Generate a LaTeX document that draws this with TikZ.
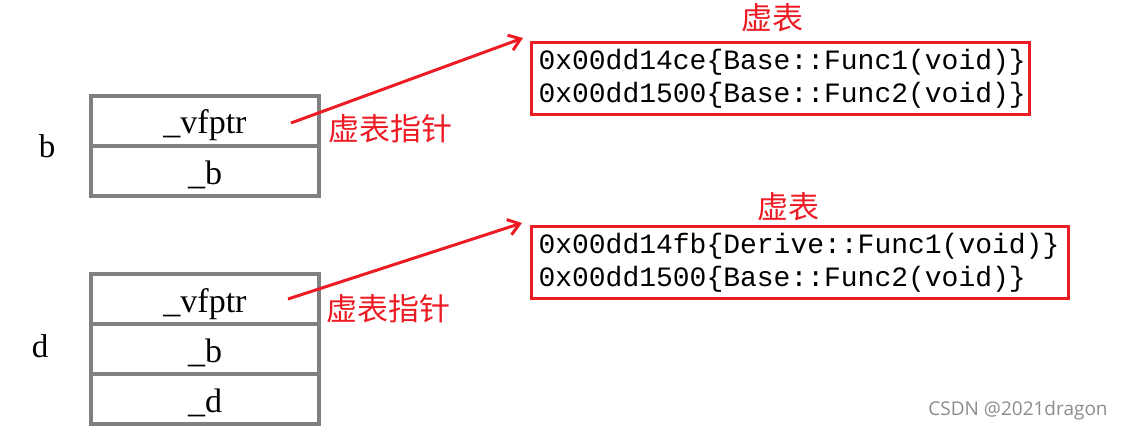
\documentclass[tikz,border=0pt]{standalone}
\usepackage{fontspec}
\setmainfont{Liberation Serif}
\setmonofont{Liberation Mono}
\newfontfamily\cjk{Noto Sans CJK SC}
\newfontfamily\marksans{Open Sans}
\usetikzlibrary{arrows.meta, positioning}

\definecolor{vtred}{RGB}{237,28,36}
\definecolor{cellgray}{RGB}{128,128,128}

\tikzset{
  cell/.style={draw=cellgray, line width=3.2pt, minimum width=228pt, minimum height=50pt, inner sep=0pt, text height=26pt, text depth=0pt, font=\fontsize{34}{38}\selectfont},
  objname/.style={font=\fontsize{33}{36}\selectfont},
  vtable/.style={draw=vtred, line width=3pt, align=left, minimum height=72pt, inner xsep=7pt, inner ysep=0pt, font=\ttfamily\fontsize{28}{33}\selectfont},
  redtag/.style={text=vtred, font=\cjk\fontsize{31}{34}\selectfont},
  ptr/.style={draw=vtred, line width=3pt, -{Straight Barb[length=11pt,width=16pt,line width=3pt]}}
}

\begin{document}
\begin{tikzpicture}[x=1pt,y=-1pt]
\useasboundingbox (0,0) rectangle (1124,433);

% object b
\node[objname] (bname) at (47,146) {b};
\node[cell] (bvf) at (205,121) {\_vfptr};
\node[cell] (bb) at (205,171) {\_b};

% object d
\node[objname] (dname) at (40,346) {d};
\node[cell] (dvf) at (205,299) {\_vfptr};
\node[cell] (db) at (205,349) {\_b};
\node[cell] (dd) at (205,399) {\_d};

% virtual tables
\node[vtable, text width=484pt, anchor=north west] (vtb) at (530,41) {0x00dd14ce\{Base::Func1(void)\}\\0x00dd1500\{Base::Func2(void)\}};
\node[vtable, text width=523pt, anchor=north west] (vtd) at (530,225) {0x00dd14fb\{Derive::Func1(void)\}\\0x00dd1500\{Base::Func2(void)\}};
\node[redtag] (vtbtag) at (772,18) {虚表};
\node[redtag] (vtdtag) at (788,207) {虚表};

% pointers
\coordinate (bptr) at (291,123);
\coordinate (dptr) at (288,299);
\draw[ptr] (bptr) -- ([xshift=-7pt,yshift=3pt]vtb.north west);
\draw[ptr] (dptr) -- ([xshift=-8pt,yshift=2pt]vtd.north west);
\node[redtag] (bptrtag) at (390,129) {虚表指针};
\node[redtag] (dptrtag) at (388,309) {虚表指针};

\node[text=black!45, font=\marksans\fontsize{19}{22}\selectfont] (mark) at (1018,411) {CSDN @2021dragon};
\end{tikzpicture}
\end{document}
